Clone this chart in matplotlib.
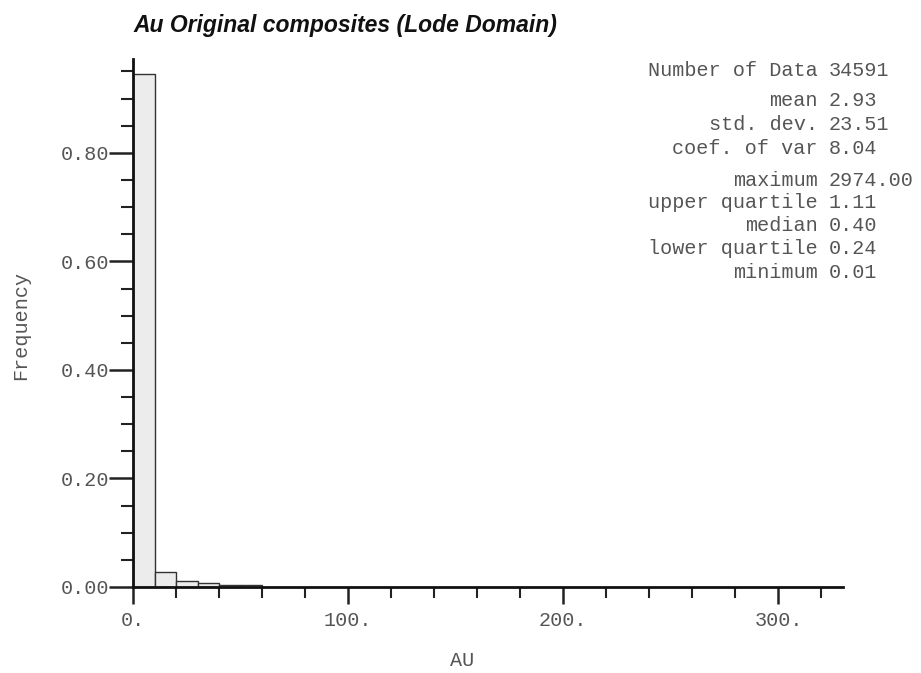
import matplotlib
matplotlib.use("Agg")
import matplotlib.pyplot as plt
import numpy as np

# histogram of Au composites, 10 unit bins
bin_edges = [0, 10, 20, 30, 40, 50, 60]
frequency = [0.946, 0.028, 0.011, 0.007, 0.004, 0.003]

x_major = [0, 100, 200, 300]
x_labels = ["0.", "100.", "200.", "300."]
y_major = [0.0, 0.2, 0.4, 0.6, 0.8]
y_labels = ["0.00", "0.20", "0.40", "0.60", "0.80"]

stat_names = ["Number of Data", "mean", "std. dev.", "coef. of var",
              "maximum", "upper quartile", "median", "lower quartile", "minimum"]
stat_values = ["34591", "2.93", "23.51", "8.04",
               "2974.00", "1.11", "0.40", "0.24", "0.01"]

W, H = 921, 673
mono = "Liberation Mono"
grey = "#555555"
fs = 14.5

fig = plt.figure(figsize=(W / 100, H / 100), dpi=100)
ax = fig.add_axes([133 / W, 1 - 587 / H, (843 - 133) / W, (587 - 59) / H])

lefts = np.array(bin_edges[:-1])
widths = np.diff(bin_edges)
ax.bar(lefts, frequency, width=widths, align="edge",
       facecolor="#ececec", edgecolor="#333333", linewidth=1.0, zorder=2)

ax.set_xlim(0, 330)
ax.set_ylim(0, 0.973)

for side in ["top", "right"]:
    ax.spines[side].set_visible(False)
for side in ["left", "bottom"]:
    ax.spines[side].set_linewidth(2.0)
    ax.spines[side].set_color("#111111")
    ax.spines[side].set_zorder(3)

ax.set_xticks(x_major)
ax.set_xticklabels(x_labels)
ax.set_xticks(np.arange(0, 330, 20), minor=True)
ax.set_yticks(y_major)
ax.set_yticklabels(y_labels)
ax.set_yticks(np.arange(0, 0.96, 0.05), minor=True)

ax.tick_params(axis="x", which="major", direction="out", length=12, width=1.8,
               color="#222222", pad=5, labelsize=fs, labelcolor=grey)
ax.tick_params(axis="x", which="minor", direction="out", length=8, width=1.5,
               color="#222222")
ax.tick_params(axis="y", which="major", direction="out", length=17, width=1.8,
               color="#222222", pad=0, labelsize=fs, labelcolor=grey)
ax.tick_params(axis="y", which="minor", direction="out", length=9, width=1.5,
               color="#222222")
for lab in ax.get_xticklabels() + ax.get_yticklabels():
    lab.set_family(mono)

fig.text(133 / W, 1 - 32 / H, "Au Original composites (Lode Domain)",
         family="Liberation Sans", weight="bold", style="italic",
         fontsize=16.5, color="#111111", ha="left", va="baseline")

fig.text(462 / W, 1 - 660 / H, "AU", family=mono, fontsize=fs, color=grey,
         ha="center", va="center")
fig.text(21 / W, 1 - 325 / H, "Frequency", family=mono, fontsize=fs,
         color=grey, rotation=90, ha="center", va="center")

# summary statistics block
row_y = [71, 101, 125, 148, 181, 203, 226, 249, 272]
for name, val, y in zip(stat_names, stat_values, row_y):
    fig.text(818 / W, 1 - y / H, name, family=mono, fontsize=fs,
             color=grey, ha="right", va="center")
    fig.text(829 / W, 1 - y / H, val, family=mono, fontsize=fs,
             color=grey, ha="left", va="center")

fig.savefig("out.png", dpi=100, facecolor="white")
